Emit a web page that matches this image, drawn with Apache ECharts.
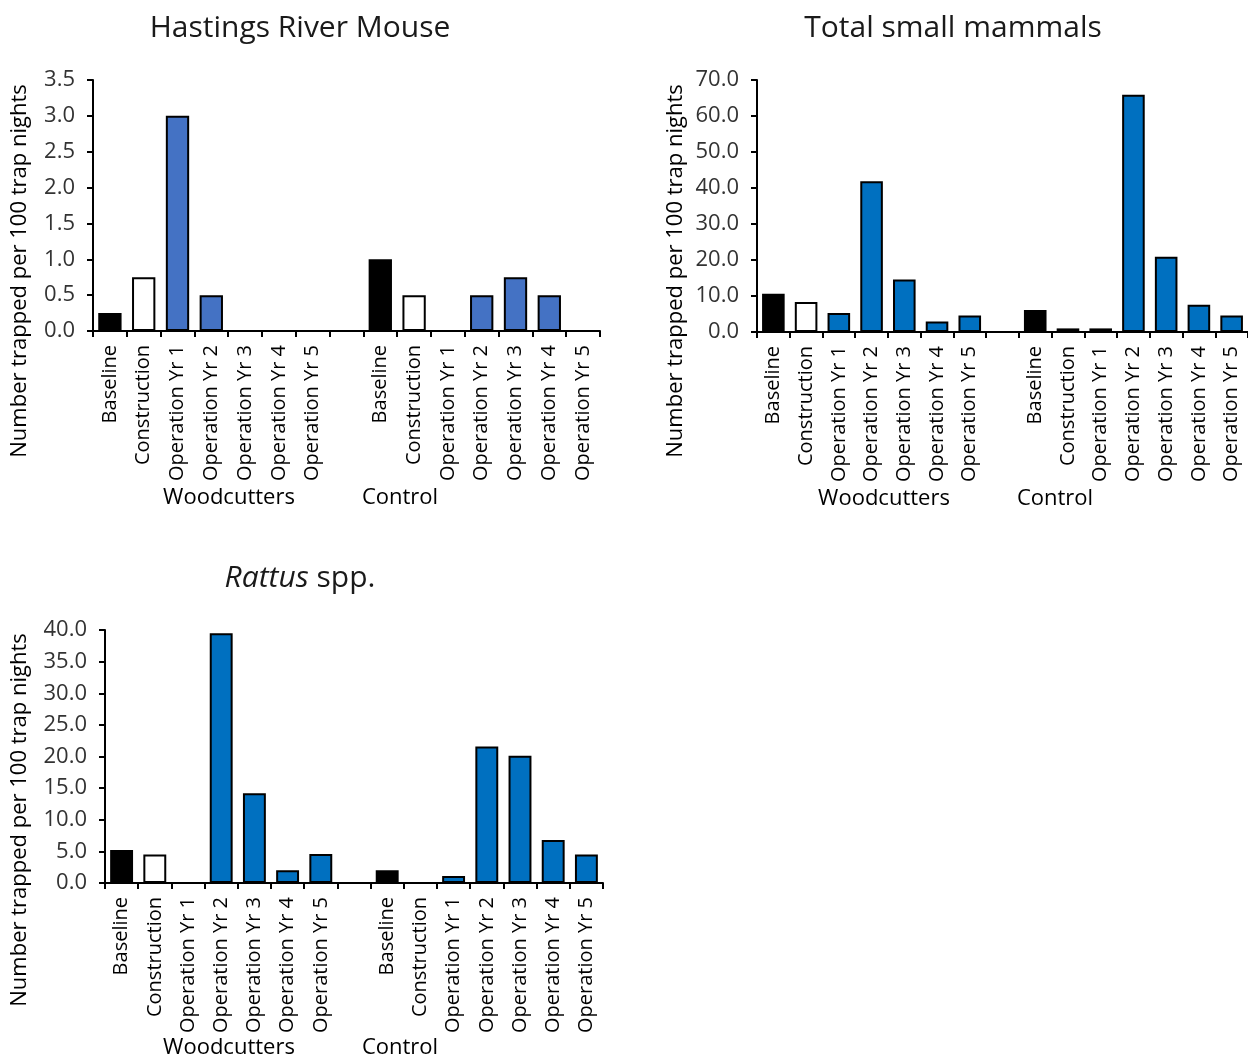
<!DOCTYPE html>
<html><head><meta charset="utf-8">
<script src="https://cdn.jsdelivr.net/npm/echarts@6/dist/echarts.min.js"></script>
<style>html,body{margin:0;padding:0;background:#fff}#c{width:1248px;height:1059px}</style>
</head><body><div id="c"></div>
<script>
// ---- data ----
const periods = ['Baseline','Construction','Operation Yr 1','Operation Yr 2','Operation Yr 3','Operation Yr 4','Operation Yr 5'];
const sites = ['Woodcutters','Control'];
const hrmWoodcutters = [0.25, 0.75, 3.0, 0.5, 0, 0, 0];
const hrmControl     = [1.0, 0.5, 0, 0.5, 0.75, 0.5, 0];
const totalWoodcutters = [10.6, 8.3, 5.3, 41.9, 14.6, 2.9, 4.6];
const totalControl     = [6.1, 1.0, 1.0, 65.9, 20.9, 7.6, 4.6];
const rattusWoodcutters = [5.2, 4.5, 0, 39.5, 14.2, 2.0, 4.6];
const rattusControl     = [2.0, 0, 1.1, 21.6, 20.1, 6.8, 4.5];
const hrmAxis = {max: 3.5, interval: 0.5};
const totalAxis = {max: 70, interval: 10};
const rattusAxis = {max: 40, interval: 5};
const yAxisName = 'Number trapped per 100 trap nights';

// ---- build ----
const FONT = '"Open Sans", sans-serif';
const cats = periods.concat(['']).concat(periods);
function combine(a, b){ return a.concat([null]).concat(b); }
function barColor(name, blue){
  if (name === 'Baseline') return '#000000';
  if (name === 'Construction') return '#ffffff';
  return blue;
}
const charts = [
  {title: 'Hastings River Mouse', w: hrmWoodcutters, c: hrmControl, ax: hrmAxis, blue: '#4472C4',
   grid: {left: 93, top: 80, width: 507, height: 251}},
  {title: 'Total small mammals', w: totalWoodcutters, c: totalControl, ax: totalAxis, blue: '#0070C0',
   grid: {left: 757, top: 80, width: 498, height: 252}},
  {title: '{i|Rattus} spp.', w: rattusWoodcutters, c: rattusControl, ax: rattusAxis, blue: '#0070C0',
   grid: {left: 105, top: 630, width: 498, height: 253}}
];
const titlePos = [[300, 28], [953, 28], [300, 578]];
const namePos = [[20, 271], [676, 271], [20, 820]];
const groupPos = [[[229, 498], [400, 498]], [[884, 499], [1055, 499]], [[229, 1048], [400, 1048]]];

const option = {
  animation: false,
  backgroundColor: '#fff',
  grid: [], xAxis: [], yAxis: [], series: [], graphic: []
};
charts.forEach((ch, i) => {
  option.grid.push(Object.assign({containLabel: false}, ch.grid));
  option.xAxis.push({
    type: 'category', gridIndex: i, data: cats,
    axisLine: {lineStyle: {color: '#000', width: 2}},
    axisTick: {show: true, interval: 0, alignWithLabel: false, length: 6, lineStyle: {color: '#000', width: 2}},
    axisLabel: {interval: 0, rotate: 90, margin: 14, color: '#000', fontSize: 20, fontFamily: FONT}
  });
  option.yAxis.push({
    type: 'value', gridIndex: i, min: 0, max: ch.ax.max, interval: ch.ax.interval,
    axisLine: {show: true, lineStyle: {color: '#000', width: 2}},
    axisTick: {show: true, length: 6, lineStyle: {color: '#000', width: 2}},
    splitLine: {show: false},
    axisLabel: {margin: 18, color: '#333', fontSize: 22, fontFamily: FONT,
      formatter: v => v.toFixed(1)}
  });
  const blue = ch.blue;
  option.series.push({
    type: 'bar', xAxisIndex: i, yAxisIndex: i,
    data: combine(ch.w, ch.c),
    barCategoryGap: '31%',
    itemStyle: {
      borderColor: '#000', borderWidth: 2,
      color: p => barColor(p.name, blue)
    }
  });
  option.graphic.push({
    type: 'text', x: titlePos[i][0], y: titlePos[i][1],
    style: {text: ch.title, fill: '#1a1a1a', font: '30px ' + FONT, align: 'center', verticalAlign: 'middle',
      rich: {i: {fontStyle: 'italic', fontSize: 30, fontFamily: FONT, fill: '#1a1a1a'}}}
  });
  option.graphic.push({
    type: 'text', x: namePos[i][0], y: namePos[i][1], rotation: Math.PI / 2,
    style: {text: yAxisName, fill: '#000', font: '22px ' + FONT, align: 'center', verticalAlign: 'middle'}
  });
  sites.forEach((s, k) => {
    option.graphic.push({
      type: 'text', x: groupPos[i][k][0], y: groupPos[i][k][1],
      style: {text: s, fill: '#000', font: '22px ' + FONT, align: 'center', verticalAlign: 'middle'}
    });
  });
});
const chart = echarts.init(document.getElementById('c'), null, {renderer: 'canvas'});
chart.setOption(option);
</script>
</body></html>
